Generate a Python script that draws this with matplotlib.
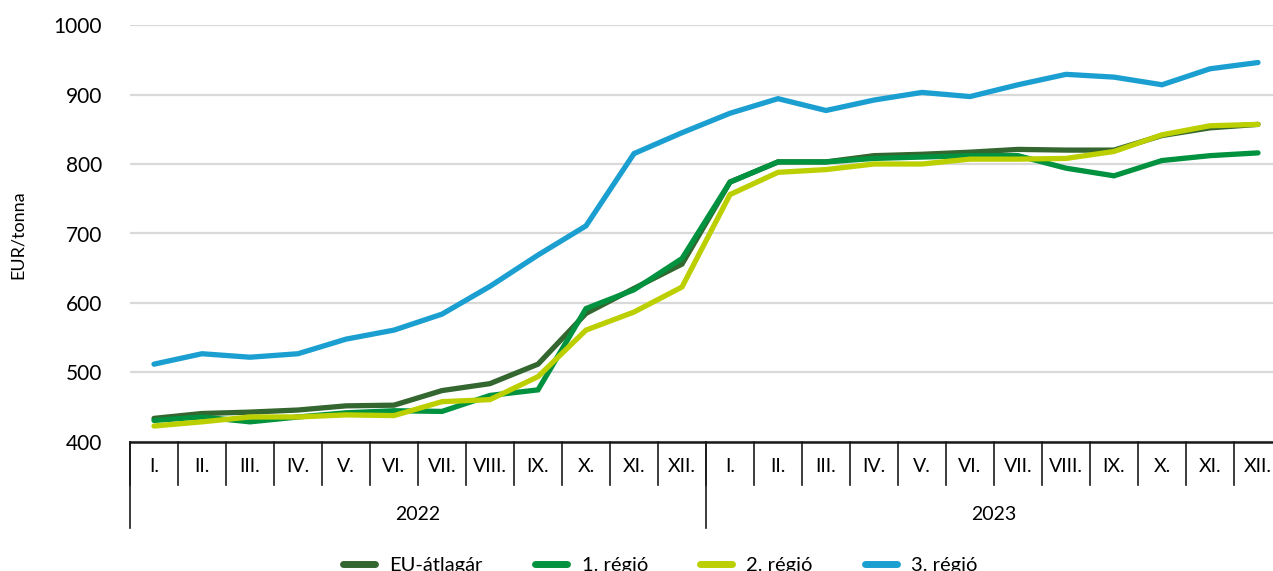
import numpy as np
import matplotlib.pyplot as plt
from matplotlib.lines import Line2D

plt.rcParams['font.family'] = ['Lato', 'DejaVu Sans']

# =========================
# DATA
# =========================
months = ["I.", "II.", "III.", "IV.", "V.", "VI.", "VII.", "VIII.", "IX.", "X.", "XI.", "XII."]
years = ["2022", "2023"]

eu_avg = [434, 441, 443, 446, 452, 453, 474, 484, 512, 585, 621, 656,
          774, 803, 803, 812, 814, 817, 821, 820, 820, 841, 852, 857]
region1 = [431, 436, 429, 436, 442, 445, 444, 467, 475, 592, 619, 664,
           774, 803, 803, 808, 810, 812, 812, 794, 783, 805, 812, 816]
region2 = [423, 429, 436, 436, 439, 438, 458, 461, 494, 561, 587, 623,
           756, 788, 792, 800, 800, 807, 807, 808, 818, 842, 855, 857]
region3 = [512, 527, 522, 527, 548, 561, 584, 624, 669, 711, 815, 845,
           873, 894, 877, 892, 903, 897, 914, 929, 925, 914, 937, 946]

series = [
    ("EU-átlagár", eu_avg, "#34662f"),
    ("1. régió", region1, "#00923f"),
    ("2. régió", region2, "#bccf00"),
    ("3. régió", region3, "#1a9fd0"),
]

# =========================
# FIGURE
# =========================
W, H = 1273, 571
fig = plt.figure(figsize=(W / 100, H / 100), dpi=100)

left, right, top, bottom = 130, 1282, 25, 442
ax = fig.add_axes([left / W, 1 - bottom / H, (right - left) / W, (bottom - top) / H])
ax_h = bottom - top

x = np.arange(len(eu_avg))
for name, vals, col in series:
    ax.plot(x, vals, color=col, lw=3.8, solid_capstyle='round',
            solid_joinstyle='miter', label=name, zorder=3)

ax.set_xlim(-0.5, len(x) - 0.5)
ax.set_ylim(400, 1000)
ax.set_yticks(range(400, 1001, 100))
ax.yaxis.grid(True, color="#d9d9d9", lw=1.6)
ax.set_axisbelow(True)
for s in ["left", "right", "top"]:
    ax.spines[s].set_visible(False)
ax.spines["bottom"].set_linewidth(1.8)
ax.spines["bottom"].set_color("#1a1a1a")
ax.tick_params(axis='y', length=0, labelsize=15, pad=20)
ax.set_xticks([])

fig.text(18 / W, 1 - 235 / H, "EUR/tonna", rotation=90, ha='center',
         va='center', fontsize=13)

# category axis: months and years
trans = ax.get_xaxis_transform()
m_sep = -43 / ax_h
y_sep = -86 / ax_h
for i in range(len(x) + 1):
    ax.plot([i - 0.5, i - 0.5], [0, m_sep], transform=trans, color="#1a1a1a",
            lw=1.2, clip_on=False)
for i in range(len(x)):
    ax.text(i, -24 / ax_h, months[i % 12], transform=trans, ha='center',
            va='center', fontsize=14)
for k, yr in enumerate(years):
    xs = k * 12 - 0.5
    ax.plot([xs, xs], [0, y_sep], transform=trans, color="#1a1a1a", lw=1.2,
            clip_on=False)
    ax.text(k * 12 + 5.5, -72 / ax_h, yr, transform=trans, ha='center',
            va='center', fontsize=14)

handles = [Line2D([0], [0], color=c, lw=5, solid_capstyle='round') for _, _, c in series]
fig.legend(handles, [s[0] for s in series], loc='center', ncol=4,
           bbox_to_anchor=(0.5 + 24 / W, 1 - 565 / H), frameon=False, fontsize=14.5,
           handlelength=1.6, columnspacing=2.6, handletextpad=0.7)

fig.savefig("out.png", dpi=100)
